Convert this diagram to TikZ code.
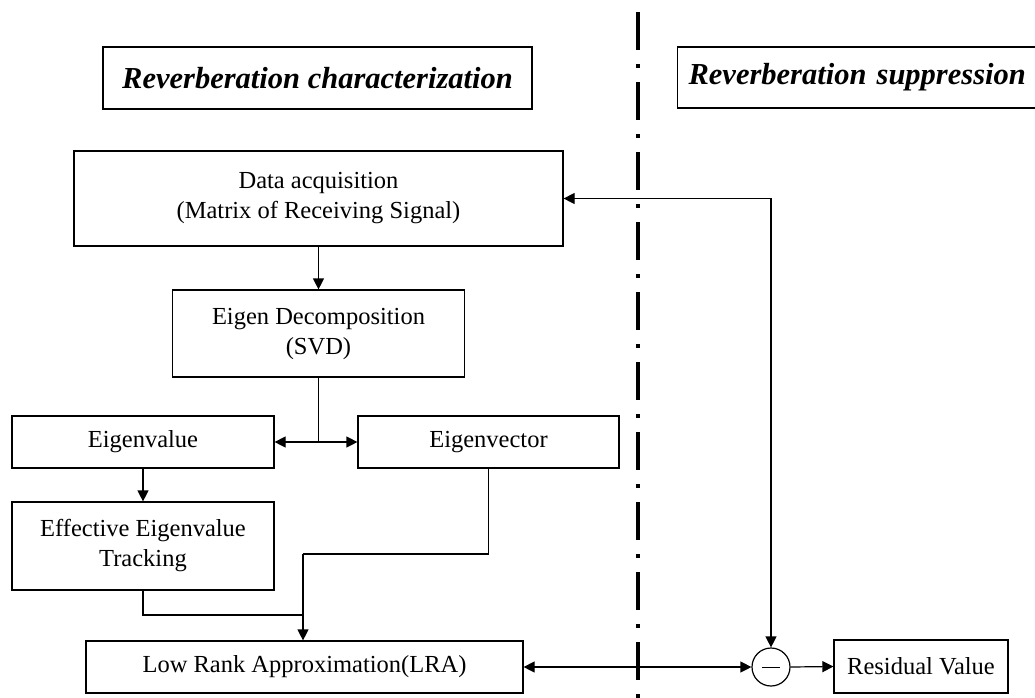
\documentclass[tikz,border=0pt]{standalone}
\usepackage{fontspec}
\setmainfont{Liberation Serif}
\usetikzlibrary{arrows.meta,shapes.geometric}
\begin{document}
\begin{tikzpicture}[x=1pt,y=-1pt,
  box/.style={draw,line width=1.2pt,rectangle,inner sep=0pt,align=center,
    font=\fontsize{24.5}{30}\selectfont},
  titlebox/.style={draw,line width=1.2pt,rectangle,inner sep=0pt,
    font=\fontsize{30.5}{34}\selectfont\bfseries\itshape},
  conn/.style={line width=1.2pt},
  arr/.style={conn,-{Triangle[length=11pt,width=11pt]}},
  biarr/.style={conn,{Triangle[length=11pt,width=11pt]}-{Triangle[length=11pt,width=11pt]}},
  sep/.style={line width=4pt,dash pattern=on 38pt off 14pt on 4pt off 14pt}
]
\useasboundingbox (0,0) rectangle (1035,697);
\fill[white] (0,0) rectangle (1035,697);

% titles
\node[titlebox,minimum width=429pt,minimum height=62pt] (t1) at (317.5,78) {Reverberation characterization};
\node[titlebox,anchor=west,minimum height=61pt,inner xsep=11pt,text width=346pt,align=left] (t2) at (677,77.5) {Reverberation suppression};

% separator
\coordinate (sepTop) at (638,12);
\coordinate (sepBot) at (638,700);
\draw[sep] (sepTop) -- (sepBot);

% boxes
\node[box,minimum width=489pt,minimum height=95pt] (data) at (318.5,198.5) {Data acquisition\\(Matrix of Receiving Signal)};
\node[box,minimum width=292pt,minimum height=87pt] (eig) at (318.5,333.5) {Eigen Decomposition\\(SVD)};
\node[box,minimum width=262pt,minimum height=52pt] (eval) at (143,442) {Eigenvalue};
\node[box,minimum width=261pt,minimum height=52pt] (evec) at (488.5,442) {Eigenvector};
\node[box,minimum width=262pt,minimum height=88pt] (eet) at (143,546) {Effective Eigenvalue\\Tracking};
\node[box,minimum width=437pt,minimum height=52pt] (lra) at (304.5,667) {Low Rank Approximation(LRA)};
\node[draw,circle,line width=1.2pt,minimum size=38pt,inner sep=0pt] (circ) at (771,667) {};
\node[box,minimum width=174pt,minimum height=53pt] (res) at (921,666.5) {Residual Value};
\draw[line width=0.8pt] ([xshift=-9pt]circ.center) -- ([xshift=9pt]circ.center);

% connectors
\draw[arr] (data.south) -- (eig.north);
\coordinate (split) at (318.5,442);
\draw[conn] (eig.south) -- (split);
\draw[arr] (split) -- (eval.east);
\draw[arr] (split) -- (evec.west);
\draw[arr] (eval.south) -- (eet.north);
\coordinate (j1) at (303,554);
\coordinate (j2) at (303,615);
\draw[conn] (evec.south) |- (j1);
\draw[arr] (j1) -- (j1 |- lra.north);
\draw[conn] (eet.south) |- (j2);
\draw[biarr] (lra.east) -- (circ.west);
\draw[arr] (circ.east) -- (res.west);
\draw[biarr] (data.east) -| (circ.north);
\end{tikzpicture}
\end{document}
